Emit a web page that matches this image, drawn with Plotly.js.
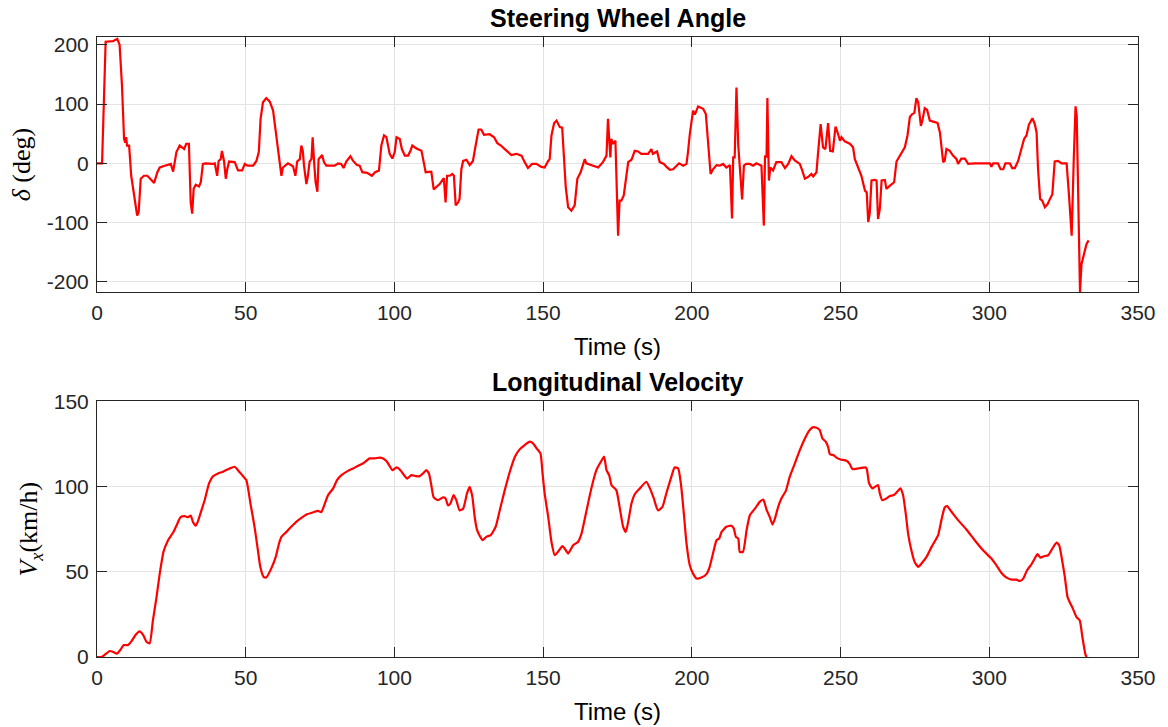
<!DOCTYPE html>
<html>
<head>
<meta charset="utf-8">
<script src="https://cdn.plot.ly/plotly-3.0.1.min.js"></script>
<style>
html,body{margin:0;padding:0;background:#fff;}
#chart{width:1168px;height:727px;}
</style>
</head>
<body>
<div id="chart"></div>
<script>
// Steering wheel angle (deg) vs time (s)
const steerTime = [0,1.7,2.9,5.4,6.8,7.6,8.4,9.1,9.5,9.8,10.1,10.8,11.5,12.4,13.5,14,14.7,15.8,16.9,18.3,19.2,20.3,21.1,22.8,24.8,25.6,26.1,26.7,27.8,28.7,29.3,30,30.9,31.5,32,32.5,33.2,34.3,34.9,35.6,36.5,39,39.6,40.4,40.9,41.6,42,42.7,43.3,43.8,44.4,46.3,47.4,48.8,49.7,50.6,52.5,53.6,54.4,55,55.8,56.9,58.1,59.2,59.7,60.5,61.4,62,62.5,64.2,65.9,66.7,67.3,68.2,68.7,69.2,69.6,70.4,70.9,71.5,72.1,72.5,73,73.5,74.1,74.5,75.7,76.3,77.1,79.9,81.1,82.1,82.9,83.8,85.2,86.1,87.4,88.3,89.2,90.8,92.4,93.5,94.8,95.6,96.5,97.3,98.4,99.3,100.1,100.7,101.8,102.5,103.5,104.6,105.4,106,107.4,109.1,110.5,111.3,112.4,113.2,114.1,115.2,116.6,117.2,117.7,118.6,119.4,120,120.6,121.4,121.9,122.5,123.1,124.2,125.3,126.4,127.3,128.3,129.2,130.1,132,133.5,134.6,135.8,137.1,138.2,139.3,141,142.7,143.8,144.9,146.3,147.7,149.4,150.5,151.7,152.2,152.8,153.7,154.5,155.6,156.4,157.1,157.6,158.4,159.5,160.6,161.5,162.6,163.4,164,164.5,166.2,168.5,170.1,171.3,171.8,172.3,172.6,172.9,173.5,174.3,174.6,175.2,175.7,176.3,177.1,177.8,178.6,179.7,180.8,181.9,183,185.3,186.4,186.9,188.3,189.2,190.6,191.5,192.6,193.7,195.7,197.1,198.2,198.7,199.3,200.4,201,202.1,203.8,204.7,205.2,205.8,206.3,207.1,208.3,209.4,210.5,211.6,212.8,213.5,213.9,214.4,215,215.6,216.3,216.9,217.5,218.3,219.5,220.6,221.7,223.4,224.2,224.6,225.1,225.4,225.9,226.4,227.3,228.4,230.1,231.3,232.4,233.5,234.6,236.3,237.1,238,239.1,240.2,240.8,241.9,242.4,243.3,244.1,244.9,245.8,246.5,247.4,248.3,249,249.8,250.3,251.4,253.1,254.2,254.8,255.9,257,258.2,258.8,259.3,259.8,260.4,261.5,262.1,262.6,263.2,263.8,264.9,265.4,266.5,268,268.8,269.6,270.5,271.6,272.5,273.3,274.1,274.8,275.5,276.1,277,277.5,278.3,279.1,280,281.4,282.6,283.4,283.9,284.5,285,285.6,286.7,287.8,289,289.5,290.6,291.8,292.9,295.2,300.2,300.7,301.3,302.9,303.8,304.7,305.4,306.9,307.7,308.6,309.7,310.6,311.7,312.5,313.3,314.5,315.3,315.9,316.4,317.1,317.8,318.7,319.6,320.4,321.2,322,323.1,324.3,326,326.8,327.7,328.4,329,329.4,329.9,330.5,331,331.9,332.7,333.4];
const steerAngle = [0,0,205,206,210,200,131,41,35,44,30,30,-21,-54,-88,-83,-26,-21,-21,-28,-33,-15,-7,-4,-1,-14,2,19,30,27,24,33,33,-66,-85,-43,-36,-39,-32,-1,0,-1,0,-21,4,7,21,4,-26,-10,3,2,-12,-12,-1,-4,-4,4,19,75,103,110,104,89,69,35,-7,-21,-7,0,-5,-21,3,7,30,21,-4,-35,-21,3,7,44,2,-32,-48,7,14,2,-4,-4,0,-1,-8,3,12,4,-3,-4,-15,-16,-21,-15,-12,30,47,44,16,8,19,44,41,24,13,13,21,30,25,21,-15,-15,-14,-44,-40,-35,-25,-66,-21,-21,-18,-21,-71,-66,-60,-10,4,6,-3,4,30,57,57,48,49,44,34,30,24,19,14,16,13,2,-8,-1,-1,-6,-7,4,7,47,68,72,61,60,7,-40,-74,-80,-71,-26,-15,-4,7,0,-3,-7,2,13,75,35,10,41,33,38,-10,-122,-63,-63,-54,-26,2,6,21,20,16,16,24,16,20,2,-1,-6,-11,-10,0,-4,-1,19,49,89,82,96,92,83,52,2,-18,-10,-3,-4,-1,-7,-3,-93,10,10,128,30,-21,-61,-4,-1,-1,-4,0,-4,-105,13,10,110,-29,-7,-12,2,2,-8,-1,12,5,-1,-12,-26,-23,-18,-22,-15,16,66,27,24,68,21,20,62,52,38,44,37,33,27,7,-7,-21,-46,-49,-99,-85,-29,-28,-29,-94,-77,-29,-28,-43,-38,-32,3,10,16,27,47,78,83,85,110,103,63,72,93,90,72,70,68,52,30,2,4,24,21,13,7,-1,8,8,-1,0,0,-6,0,0,-10,-10,0,0,-8,-8,4,19,41,47,65,76,66,52,-10,-60,-63,-74,-69,-60,-52,3,4,0,0,-54,-122,7,96,80,-66,-217,-170,-153,-136,-130];

// Longitudinal velocity (km/h) vs time (s)
const velTime = [0,1.5,4.3,5.4,6.7,7.8,9,10.4,11.5,13,14.3,15.5,16.6,17.7,18.8,20,21.1,22.4,23.9,25.6,26.7,28.1,29.5,30.6,31.5,32.3,33.2,34,35.1,36.2,37.7,39,40.7,42.4,44.6,46.3,47.4,49.1,50.2,51.6,53,54.1,54.9,56,56.9,58.6,60.1,61.2,62,63.7,65.3,67,68.7,70.4,72.6,74.3,75.4,76.6,77.7,79.4,80.7,82.2,84.4,86.1,87.8,89.4,91.7,93.4,95,96.2,97.3,98.2,99.3,100.7,102,103.1,104.3,105.7,107.2,108.5,109.6,110.7,111.6,112.4,113.2,114.7,116.3,117.2,118,118.8,119.9,120.8,121.9,123.1,124.4,125.3,126.2,127,127.8,128.7,129.6,130.9,132.4,134.1,135.4,137.1,138.8,140.5,142.1,143.8,145.5,146.6,147.8,149.1,149.8,150.5,151.7,152.8,153.9,155,156.5,157.6,158.4,160.1,161.7,162.9,164.5,166.2,167.9,169.6,170.5,171.3,172.2,173,174.6,175.8,176.9,177.8,178.6,179.7,180.8,182.5,184.7,185.9,187.2,188.6,190.1,191.4,193.1,194.2,195.4,196.3,197.3,198.2,199.3,200.4,201.6,203.2,204.9,206,207.1,208.3,209.2,210,211.6,213.3,214.1,214.8,215.6,216.1,217.2,218.4,219.5,221.2,222.8,224,225.1,226.2,227.1,227.9,229,230.1,231.6,232.9,234.6,236.3,238,239.4,240.6,241.9,243,243.9,245,245.8,246.4,247.7,248.6,250,252,253.1,254,255.9,258.5,258.9,259.6,260.7,261.5,262.6,263.2,264,265.4,266.6,267.9,269,270.1,271,271.9,272.7,273.8,274.9,276.1,277.2,278.9,280.6,282.8,283.9,285,285.8,287.3,289.5,292.3,295.1,297.9,300.7,302.4,304.1,305.8,307.5,309.1,310.3,311.4,312.7,314.2,315.3,316.2,317.2,318.3,319.8,321.2,322.6,323.5,324.3,325.4,326.3,327,328.1,329.3,330.4,331.3,332.4,332.8];
const velocity = [0,0,3.5,3,2,4,7,7,9,13,15,13,9,8,21.5,35,49,62,68.5,73,77,82,82.6,82,83,79,77,80,86,92,102,106,107.7,108.7,110.6,111.6,109.6,106,103.8,90,76,62.6,52.9,47,46.6,52,58.7,66.6,70.5,73.4,76.4,79.3,81.6,83.6,84.8,85.7,85,90,95,98.9,103.8,106.7,109.2,110.6,112.2,113.5,116.5,116.5,117,116.5,115,112.6,109.6,111.2,109.6,107,104.7,106.7,106.1,106.1,107.7,109.6,107.7,100.8,93.6,92,93.6,93,89,90,95,92,86,87,96,99.8,94,82,74.4,71,68.5,70.5,71.5,76.7,86,97.9,108.7,117.5,121.8,124.3,126.3,125.3,122.4,119.4,107.7,96,82.2,67.5,59.7,61.7,65,62.6,60.7,65.6,67.5,72.4,85.2,98.9,109.6,115.1,117.5,109.6,106.7,100.8,97.9,87,76.4,73.4,79.3,90,95.5,98.9,102.8,98.9,93,86,88,95.9,105.7,111.2,110.6,101.8,84.2,66.6,53.8,48.9,46,46.6,48.6,52.9,60.7,68.5,69.5,73.4,76.4,77,75.4,70.5,69.5,61.7,61.7,74.4,83.2,87,91,92.4,86.5,82,77.7,81,88,93,97.5,105.7,113.5,121.4,128.2,132.7,134.7,134.5,133.1,128.2,126.3,123.3,119,118.4,117,115.9,115.1,113.2,110.2,110.6,111.2,109.6,101.8,98.9,99.8,100.8,95.9,92,93,94.4,95,96.9,98.9,95,84.2,72.4,62.6,55.8,52.9,54.8,58.7,64.6,71.5,80.3,87.7,88.5,85.2,80.3,74.8,68.5,62.6,57.8,53.8,49.3,46.6,45.4,45.4,44.6,46,50.9,54.4,57.8,60.3,58.3,59.1,59.7,63.6,67.1,65.6,58.7,47,35.2,32.3,28.4,23.5,21.5,11.7,1,0];

const xTicks = [0,50,100,150,200,250,300,350];
const xTickText = ['0','50','100','150','200','250','300','350'];
const steerTicks = [-200,-100,0,100,200];
const steerTickText = ['-200','-100','0','100','200'];
const velTicks = [0,50,100,150];
const velTickText = ['0','50','100','150'];

const tickFont = {family:'"Liberation Sans", Arial, Helvetica, sans-serif', size:21, color:'#262626'};
const xlabFont = {family:'"Liberation Sans", Arial, Helvetica, sans-serif', size:24, color:'#000000'};
const titleFont = {family:'"Liberation Sans", Arial, Helvetica, sans-serif', size:25, color:'#000000'};
const ylabFont = {family:'"Liberation Serif", "Times New Roman", serif', size:26, color:'#000000'};

function axisBase(){
  return {
    showline:true, linecolor:'#262626', linewidth:1, mirror:'ticks',
    ticks:'inside', ticklen:10, tickwidth:1, tickcolor:'#262626',
    showgrid:true, gridcolor:'#e3e3e3', gridwidth:1, zeroline:false,
    tickfont:tickFont, tickmode:'array'
  };
}

const traces = [
  {x:steerTime, y:steerAngle, type:'scatter', mode:'lines', xaxis:'x', yaxis:'y',
   line:{color:'#ff0000', width:2.2}, hoverinfo:'skip'},
  {x:velTime, y:velocity, type:'scatter', mode:'lines', xaxis:'x2', yaxis:'y2',
   line:{color:'#ff0000', width:2.2, shape:'spline', smoothing:0.5}, hoverinfo:'skip'}
];

const layout = {
  width:1168, height:727,
  paper_bgcolor:'#ffffff', plot_bgcolor:'#ffffff',
  showlegend:false,
  margin:{l:97, r:30, t:37, b:70},
  xaxis: Object.assign(axisBase(), {anchor:'y', domain:[0,1], range:[0,350], tickvals:xTicks, ticktext:xTickText,
    ticklabelstandoff:2, title:{text:'Time (s)', font:xlabFont, standoff:14}}),
  yaxis: Object.assign(axisBase(), {anchor:'x', domain:[0.5887,1], range:[-217,213], tickvals:steerTicks, ticktext:steerTickText,
    ticklabelstandoff:3, title:{text:'<i>δ</i> (deg)', font:ylabFont, standoff:8}}),
  xaxis2: Object.assign(axisBase(), {anchor:'y2', domain:[0,1], range:[0,350], tickvals:xTicks, ticktext:xTickText,
    ticklabelstandoff:2, title:{text:'Time (s)', font:xlabFont, standoff:14}}),
  yaxis2: Object.assign(axisBase(), {anchor:'x2', domain:[0,0.4124], range:[0,150], tickvals:velTicks, ticktext:velTickText,
    ticklabelstandoff:3, title:{text:'<i>V</i><sub><i>x</i></sub>(km/h)', font:ylabFont, standoff:8}}),
  annotations:[
    {text:'<b>Steering Wheel Angle</b>', xref:'paper', yref:'paper', x:0.5, y:1.031, xanchor:'center', yanchor:'middle',
     showarrow:false, font:titleFont},
    {text:'<b>Longitudinal Velocity</b>', xref:'paper', yref:'paper', x:0.5, y:0.444, xanchor:'center', yanchor:'middle',
     showarrow:false, font:titleFont}
  ]
};

Plotly.newPlot('chart', traces, layout, {staticPlot:true, displayModeBar:false});
</script>
</body>
</html>
